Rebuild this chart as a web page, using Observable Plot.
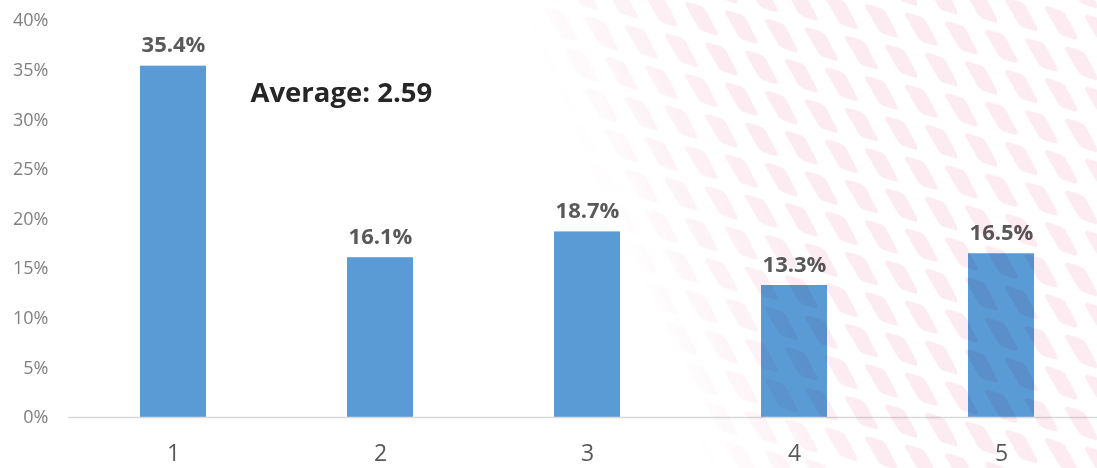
<!DOCTYPE html>
<html>
<head>
<meta charset="utf-8">
<script src="https://cdn.jsdelivr.net/npm/d3@7"></script>
<script src="https://cdn.jsdelivr.net/npm/@observablehq/plot@0.6"></script>
<style>
  html, body { margin: 0; padding: 0; background: #fff; }
  #wrap { position: relative; width: 1097px; height: 468px; overflow: hidden; }
  #wm {
    position: absolute; left: 0; top: 0; width: 1097px; height: 468px;
    pointer-events: none; mix-blend-mode: multiply;
    -webkit-mask-image: linear-gradient(68deg, transparent 55%, rgba(0,0,0,0.55) 61%, black 70%);
    mask-image: linear-gradient(68deg, transparent 55%, rgba(0,0,0,0.55) 61%, black 70%);
  }
</style>
</head>
<body>
<div id="wrap">
  <div id="chart"></div>
  <svg id="wm" width="1097" height="468" xmlns="http://www.w3.org/2000/svg">
    <defs>
      <path id="lz" d="M0,4 Q0,0 5,1 L16,2 Q20,3 22,7 L32,24 Q34,29 29,28 L18,27 Q14,26 12,22 Z" fill="#fcebf1"/>
      <pattern id="pt" width="40" height="72" patternUnits="userSpaceOnUse" patternTransform="translate(5,0) skewY(12)">
        <use href="#lz" x="0" y="0"/>
        <use href="#lz" x="20" y="36"/>
        <use href="#lz" x="-20" y="36"/>
      </pattern>
    </defs>
    <rect width="1097" height="468" fill="url(#pt)"/>
  </svg>
</div>
<script>
const categories = ["1", "2", "3", "4", "5"];
const shares = [35.4, 16.1, 18.7, 13.3, 16.5];
const yTicks = [0, 5, 10, 15, 20, 25, 30, 35, 40];
const averageLabel = "Average: 2.59";

const data = categories.map((c, i) => ({ cat: c, value: shares[i] }));

const font = "'Open Sans', 'Noto Sans', sans-serif";

const chart = Plot.plot({
  width: 1097,
  height: 468,
  marginLeft: 68,
  marginRight: 0,
  marginTop: 20,
  marginBottom: 51,
  style: { fontFamily: font, background: "transparent", overflow: "visible" },
  x: { domain: categories, range: [68, 1105], paddingInner: 0.682, paddingOuter: 0.341, label: null },
  y: { domain: [0, 40], label: null },
  marks: [
    Plot.barY(data, { x: "cat", y: "value", fill: "#5b9bd5" }),
    Plot.ruleY([0], { stroke: "#d9d9d9", strokeWidth: 1.3 }),
    Plot.text(data, {
      x: "cat", y: "value", text: d => d.value.toFixed(1) + "%",
      dy: -21, lineAnchor: "middle", fill: "#595959", fontWeight: "bold", fontSize: 22
    }),
    Plot.text([averageLabel], {
      frameAnchor: "top-left", text: d => d, dx: 182, dy: 73, textAnchor: "start",
      lineAnchor: "middle", fill: "#262626", fontWeight: "bold", fontSize: 27.5
    }),
    Plot.axisY({
      ticks: yTicks, tickSize: 0, tickPadding: 20, tickFormat: d => d + "%",
      fontSize: 18, fill: "#7f7f7f", label: null
    }),
    Plot.axisX({
      tickSize: 0, tickPadding: 27, fontSize: 23, fill: "#595959", label: null
    })
  ]
});

document.getElementById("chart").appendChild(chart);
</script>
</body>
</html>
